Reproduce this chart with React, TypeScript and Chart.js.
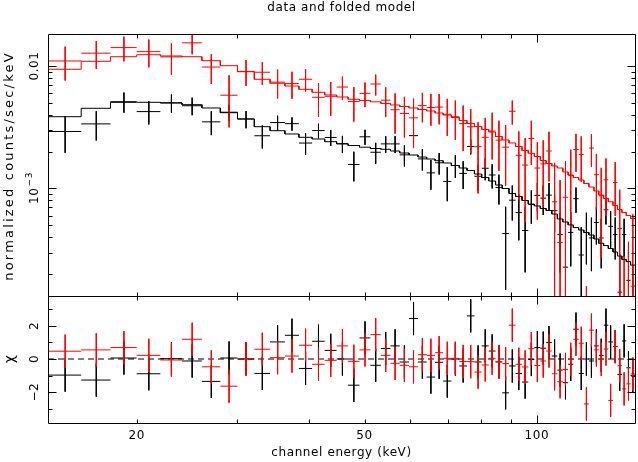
import React, { useEffect, useRef } from "react";
import { Chart, registerables } from "chart.js";

Chart.register(...registerables);

// ---- data ----
const binEdges = [
  14, 16, 18, 20, 22, 24, 26, 28, 30, 32.1, 34.2, 36.3, 38.4, 40.5, 42.6, 44.7, 46.8, 49.0, 51.2, 53.4,
  55.5, 57.6, 59.8, 62.0, 64.2, 66.4, 68.6, 70.9, 73.2, 75.5, 77.8, 80.1, 82.4, 84.7, 87.0, 89.4, 91.8,
  94.2, 96.6, 99.0, 101.4, 103.8, 106.2, 108.6, 111.0, 113.4, 115.8, 118.3, 120.8, 123.3, 125.8, 128.3,
  130.8, 133.3, 135.8, 138.3, 140.8, 143.3, 145.8, 148.4,
];

const blackModel = [
  0.003855, 0.004516, 0.005053, 0.005053, 0.004989, 0.004831, 0.004542, 0.004157, 0.003693, 0.003195,
  0.002963, 0.002786, 0.002618, 0.002536, 0.00241, 0.002317, 0.002244, 0.002173, 0.002121, 0.002089,
  0.002024, 0.001949, 0.001877, 0.001807, 0.00174, 0.001686, 0.001615, 0.001541, 0.00147, 0.001403,
  0.001313, 0.00123, 0.001151, 0.001068, 0.001, 0.00091, 0.00086, 0.000798, 0.000747, 0.00072,
  0.000687, 0.000661, 0.000619, 0.000564, 0.000533, 0.000504, 0.00048, 0.000458, 0.000437, 0.000417,
  0.000387, 0.000357, 0.000342, 0.000324, 0.000303, 0.000281, 0.000263, 0.000253, 0.000237,
];

const redModel = [
  0.009399, 0.01092, 0.01191, 0.01236, 0.01207, 0.01191, 0.01105, 0.01006, 0.008984, 0.007788,
  0.007226, 0.006867, 0.006453, 0.006099, 0.005798, 0.005584, 0.005348, 0.005229, 0.005103, 0.004943,
  0.004805, 0.004672, 0.004542, 0.004415, 0.004292, 0.004133, 0.003981, 0.003799, 0.00359, 0.003393,
  0.003207, 0.003031, 0.002892, 0.002658, 0.002489, 0.002352, 0.002202, 0.002043, 0.001938, 0.001825,
  0.001693, 0.0016, 0.001527, 0.00147, 0.001364, 0.001289, 0.00123, 0.001173, 0.001098, 0.001028,
  0.000954, 0.000885, 0.000829, 0.00078, 0.000727, 0.000674, 0.000637, 0.000602, 0.000569,
];

// 1-sigma error relative to the model, per bin
const blackRelErr = [
  0.25, 0.2, 0.19, 0.18, 0.17, 0.16, 0.17, 0.15, 0.16, 0.18,
  0.16, 0.15, 0.18, 0.16, 0.16, 0.16, 0.19, 0.17, 0.18, 0.17,
  0.18, 0.19, 0.18, 0.19, 0.21, 0.19, 0.22, 0.21, 0.23, 0.22,
  0.23, 0.24, 0.25, 0.26, 0.28, 0.28, 0.3, 0.31, 0.3, 0.32,
  0.33, 0.34, 0.36, 0.38, 0.4, 0.41, 0.4, 0.43, 0.45, 0.44,
  0.46, 0.48, 0.47, 0.5, 0.52, 0.53, 0.55, 0.56, 0.58,
];

const redRelErr = [
  0.36, 0.3, 0.27, 0.27, 0.28, 0.25, 0.24, 0.26, 0.24, 0.24,
  0.27, 0.26, 0.25, 0.28, 0.3, 0.26, 0.3, 0.26, 0.27, 0.29,
  0.33, 0.32, 0.36, 0.29, 0.31, 0.31, 0.34, 0.36, 0.38, 0.37,
  0.4, 0.38, 0.42, 0.41, 0.45, 0.4, 0.48, 0.5, 0.52, 0.5,
  0.52, 0.55, 0.55, 0.55, 0.6, 0.62, 0.58, 0.65, 0.5, 0.62,
  0.65, 0.68, 0.7, 0.6, 0.72, 0.75, 0.7, 0.78, 0.8,
];

// residuals (data - model) / sigma
const blackResid = [
  -0.97, -1.27, 0.06, -0.89, 0.02, -0.12, -1.35, 0.06, 0.0, -0.87,
  1.03, 1.43, -0.57, 1.07, 0.52, 0.0, -1.58, 1.27, -0.38, 0.63,
  0.79, -0.18, 2.44, -0.18, -1.09, -0.2, -1.33, 0.0, -0.42, 2.6,
  -0.18, 0.79, 0.48, -0.18, -2.04, -0.42, -0.87, -1.39, -0.03, 0.69,
  0.65, 0.99, 0.18, -0.67, -1.43, -0.32, 1.8, -0.87, 0.0, -0.12,
  0.79, 0.22, 2.04, 1.03, 0.75, -0.93, 1.09, -0.53, -0.99,
];

const redResid = [
  0.47, 0.55, 0.69, 0.22, -0.06, 1.19, -0.47, -1.64, 0.02, 0.59,
  0.08, 0.18, 0.83, -0.32, -0.08, 0.79, -0.14, 0.55, 1.47, 0.22,
  -0.26, -0.38, -0.47, 0.26, 0.22, 0.38, 0.04, 0.04, -0.15, -0.16,
  -0.79, -0.36, 0.04, -0.16, -0.28, 2.04, -0.32, -0.48, 0.62, -0.39,
  -0.12, 0.48, -0.89, -1.37, -0.63, -0.02, 1.19, 0.95, -2.71, 1.74,
  0.55, -0.02, 0.6, -2.5, 0.75, -0.4, -1.8, -1.5, -0.9,
];

// ---- axes / ticks ----
const X_MIN = 14;
const X_MAX = 148.4;
const TOP_Y_MIN = 1.3258e-4;
const TOP_Y_MAX = 0.018245;
const RES_Y_MIN = -3.86;
const RES_Y_MAX = 3.8;

const xLabelTicks = [20, 50, 100];
const xLabelTexts = ["20", "50", "100"];
const xMinorTicks = [20, 30, 40, 50, 60, 70, 80, 90];
const xMajorTicks = [100];
const topYMajorTicks = [0.001, 0.01];
const topYMinorTicks = [
  0.0002, 0.0003, 0.0004, 0.0005, 0.0006, 0.0007, 0.0008, 0.0009,
  0.002, 0.003, 0.004, 0.005, 0.006, 0.007, 0.008, 0.009,
];
const resYMajorTicks = [-2, 0, 2];
const resYLabelTexts = ["\u22122", "0", "2"];
const resYMinorTicks = [-3, -1, 1, 3];

const TITLE = "data and folded model";
const X_TITLE = "channel energy (keV)";
const Y_TITLE = "normalized counts/sec/keV";
const RES_TITLE = "\u03c7";

const FONT_FAMILY = '"DejaVu Sans", sans-serif';
const RED = "#ff0000";
const BLACK = "#000000";

type Pt = { x: number; y: number | null };

function stepData(model: number[]): Pt[] {
  const pts: Pt[] = [];
  for (let i = 0; i < model.length; i++) {
    pts.push({ x: binEdges[i], y: model[i] });
    pts.push({ x: binEdges[i + 1], y: model[i] });
  }
  return pts;
}

function dataCrosses(model: number[], rel: number[], resid: number[]): Pt[] {
  const pts: Pt[] = [];
  const floor = TOP_Y_MIN / 10;
  for (let i = 0; i < model.length; i++) {
    const c = (binEdges[i] + binEdges[i + 1]) / 2;
    const s = model[i] * rel[i];
    const d = model[i] + resid[i] * s;
    if (d > 0) {
      pts.push({ x: binEdges[i], y: d }, { x: binEdges[i + 1], y: d }, { x: c, y: null });
    }
    const hi = d + s;
    const lo = d - s;
    if (hi > 0) {
      pts.push({ x: c, y: hi }, { x: c, y: lo > 0 ? lo : floor }, { x: c, y: null });
    }
  }
  return pts;
}

function residCrosses(resid: number[]): Pt[] {
  const pts: Pt[] = [];
  for (let i = 0; i < resid.length; i++) {
    const c = (binEdges[i] + binEdges[i + 1]) / 2;
    const r = resid[i];
    pts.push({ x: binEdges[i], y: r }, { x: binEdges[i + 1], y: r }, { x: c, y: null });
    pts.push({ x: c, y: r + 1 }, { x: c, y: r - 1 }, { x: c, y: null });
  }
  return pts;
}

function lineDs(data: Pt[], color: string, extra: any = {}) {
  return {
    data,
    borderColor: color,
    backgroundColor: color,
    borderWidth: 1,
    pointRadius: 0,
    tension: 0,
    spanGaps: false,
    fill: false,
    ...extra,
  };
}

function px(v: number) {
  return Math.round(v) + 0.5;
}

function drawFrameAndTicks(chart: any, yMajor: number[], yMinor: number[]) {
  const { ctx, chartArea, scales } = chart;
  const { left, right, top, bottom } = chartArea;
  const x = scales.x;
  const y = scales.y;
  ctx.save();
  ctx.strokeStyle = BLACK;
  ctx.lineWidth = 1;
  ctx.beginPath();
  const L = px(left), R = px(right), T = px(top), B = px(bottom);
  ctx.moveTo(L, T); ctx.lineTo(R, T); ctx.lineTo(R, B); ctx.lineTo(L, B); ctx.closePath();
  const xt = (vals: number[], len: number) => {
    vals.forEach((v) => {
      const p = px(x.getPixelForValue(v));
      ctx.moveTo(p, T); ctx.lineTo(p, T + len);
      ctx.moveTo(p, B); ctx.lineTo(p, B - len);
    });
  };
  xt(xMinorTicks, 4);
  xt(xMajorTicks, 8);
  const yt = (vals: number[], len: number) => {
    vals.forEach((v) => {
      const p = px(y.getPixelForValue(v));
      if (p < T || p > B) return;
      ctx.moveTo(L, p); ctx.lineTo(L + len, p);
      ctx.moveTo(R, p); ctx.lineTo(R - len, p);
    });
  };
  yt(yMinor, 4);
  yt(yMajor, 8);
  ctx.stroke();
  ctx.restore();
}

function rotatedText(
  ctx: CanvasRenderingContext2D,
  text: string,
  cx: number,
  cy: number,
  font: string,
  spacing = "0.6px"
) {
  ctx.save();
  ctx.translate(cx, cy);
  ctx.rotate(-Math.PI / 2);
  ctx.font = font;
  (ctx as any).letterSpacing = spacing;
  ctx.textAlign = "center";
  ctx.textBaseline = "middle";
  ctx.fillText(text, 0, 0);
  ctx.restore();
}

const topDeco = {
  id: "topDeco",
  afterDraw(chart: any) {
    const { ctx, chartArea, scales } = chart;
    drawFrameAndTicks(chart, topYMajorTicks, topYMinorTicks);
    ctx.save();
    ctx.fillStyle = BLACK;
    ctx.font = `12px ${FONT_FAMILY}`;
    ctx.textAlign = "center";
    ctx.textBaseline = "middle";
    (ctx as any).letterSpacing = "0.6px";
    ctx.fillText(TITLE, (chartArea.left + chartArea.right) / 2, 8);
    const y = scales.y;
    rotatedText(ctx, "0.01", 35, y.getPixelForValue(0.01), `12px ${FONT_FAMILY}`);
    const cy = y.getPixelForValue(0.001);
    ctx.save();
    ctx.translate(35, cy);
    ctx.rotate(-Math.PI / 2);
    ctx.textBaseline = "middle";
    ctx.textAlign = "left";
    ctx.font = `12px ${FONT_FAMILY}`;
    const w1 = ctx.measureText("10").width;
    ctx.font = `9px ${FONT_FAMILY}`;
    const w2 = ctx.measureText("\u22123").width;
    const start = -(w1 + w2) / 2;
    ctx.font = `12px ${FONT_FAMILY}`;
    ctx.fillText("10", start, 0);
    ctx.font = `9px ${FONT_FAMILY}`;
    ctx.fillText("\u22123", start + w1 + 1, -5);
    ctx.restore();
    rotatedText(ctx, Y_TITLE, 10, 166, `13px ${FONT_FAMILY}`, "2.2px");
    ctx.restore();
  },
};

const BOTTOM_OFFSET = 290;

const bottomDeco = {
  id: "bottomDeco",
  afterDraw(chart: any) {
    const { ctx, chartArea, scales } = chart;
    drawFrameAndTicks(chart, resYMajorTicks, resYMinorTicks);
    ctx.save();
    ctx.fillStyle = BLACK;
    const y = scales.y;
    const x = scales.x;
    resYMajorTicks.forEach((v, i) => {
      rotatedText(ctx, resYLabelTexts[i], 35, y.getPixelForValue(v), `12px ${FONT_FAMILY}`);
    });
    rotatedText(ctx, RES_TITLE, 10, y.getPixelForValue(0), `14px ${FONT_FAMILY}`);
    (ctx as any).letterSpacing = "0.6px";
    ctx.font = `12px ${FONT_FAMILY}`;
    ctx.textAlign = "center";
    ctx.textBaseline = "middle";
    xLabelTicks.forEach((v, i) => {
      ctx.fillText(xLabelTexts[i], x.getPixelForValue(v), 436 - BOTTOM_OFFSET);
    });
    ctx.fillText(X_TITLE, (chartArea.left + chartArea.right) / 2, 453 - BOTTOM_OFFSET);
    ctx.restore();
  },
};

function baseOptions(yScale: any, padding: any) {
  return {
    responsive: false,
    animation: false as const,
    events: [] as any[],
    layout: { padding },
    plugins: { legend: { display: false }, tooltip: { enabled: false }, title: { display: false } },
    scales: {
      x: { type: "logarithmic", min: X_MIN, max: X_MAX, display: false },
      y: yScale,
    },
  };
}

export default function App() {
  const topRef = useRef<HTMLCanvasElement>(null);
  const botRef = useRef<HTMLCanvasElement>(null);

  useEffect(() => {
    const top = new Chart(topRef.current as HTMLCanvasElement, {
      type: "line",
      data: {
        datasets: [
          lineDs(stepData(redModel), RED),
          lineDs(stepData(blackModel), BLACK),
          lineDs(dataCrosses(redModel, redRelErr, redResid), RED),
          lineDs(dataCrosses(blackModel, blackRelErr, blackResid), BLACK),
        ] as any,
      },
      options: baseOptions(
        { type: "logarithmic", min: TOP_Y_MIN, max: TOP_Y_MAX, display: false },
        { left: 48, right: 3, top: 34, bottom: 4 }
      ) as any,
      plugins: [topDeco],
    });
    const bot = new Chart(botRef.current as HTMLCanvasElement, {
      type: "line",
      data: {
        datasets: [
          lineDs(residCrosses(redResid), RED),
          lineDs(residCrosses(blackResid), BLACK),
          lineDs(
            [
              { x: X_MIN, y: 0 },
              { x: X_MAX, y: 0 },
            ],
            BLACK,
            { borderDash: [6, 4] }
          ),
        ] as any,
      },
      options: baseOptions(
        { type: "linear", min: RES_Y_MIN, max: RES_Y_MAX, display: false },
        { left: 48, right: 3, top: 6, bottom: 39 }
      ) as any,
      plugins: [bottomDeco],
    });
    return () => {
      top.destroy();
      bot.destroy();
    };
  }, []);

  return (
    <div style={{ position: "absolute", left: 0, top: 0, width: 638, height: 462, background: "#fff" }}>
      <canvas
        ref={topRef}
        width={638}
        height={300}
        style={{ position: "absolute", left: 0, top: 0, width: 638, height: 300 }}
      />
      <canvas
        ref={botRef}
        width={638}
        height={172}
        style={{ position: "absolute", left: 0, top: BOTTOM_OFFSET, width: 638, height: 172 }}
      />
    </div>
  );
}
